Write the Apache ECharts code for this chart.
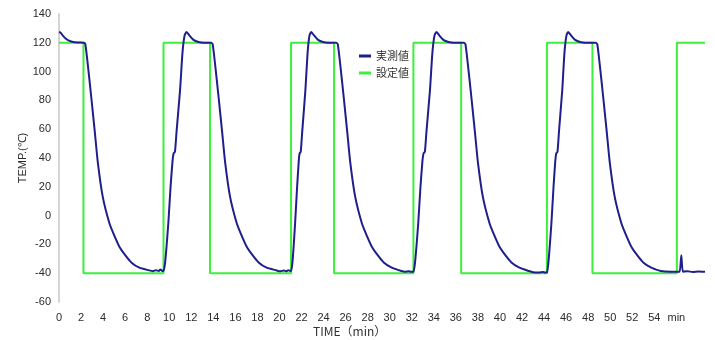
<!DOCTYPE html>
<html>
<head>
<meta charset="utf-8">
<script src="https://cdn.jsdelivr.net/npm/echarts@6/dist/echarts.min.js"></script>
<style>
  html, body { margin: 0; padding: 0; background: #fff; }
  #chart { width: 715px; height: 340px; }
</style>
</head>
<body>
<div id="chart"></div>
<script>
// set point: time (min) where the level changes, and the level from then on
const setTimes  = [0, 2.22, 9.48, 13.70, 21.05, 24.95, 32.15, 36.48, 44.26, 48.39, 56.05, 58.6]
const setLevels = [120, -40, 120, -40, 120, -40, 120, -40, 120, -40, 120, 120]

const measStartT = [0, 0.15, 0.35, 0.6, 0.9, 1.3, 1.8]
const measStartV = [127.5, 127, 125, 123, 121.5, 120.5, 120.2]

const measDown1T = [2.25, 2.39, 2.61, 2.93, 3.25, 3.52, 3.97, 4.58, 4.97, 5.49, 6.06, 6.56, 7.24, 8.15, 8.5, 8.8, 9.06, 9.2, 9.35]
const measDown1V = [120, 119, 105, 82, 58, 37, 13, -5.5, -13, -21.8, -28, -32.5, -36, -38, -38.6, -37.9, -38.5, -37.4, -38.3]
const measUp1T = [9.48, 9.62, 9.75, 9.92, 10.12, 10.30, 10.39, 10.52, 10.66, 10.98, 11.20, 11.39, 11.57, 11.84, 12.20, 12.66, 13.11]
const measUp1V = [-38.5, -33, -22, -5, 20, 38, 43, 44.5, 58, 87, 113, 125, 127.5, 125, 122, 120.5, 120]

const measDown2T = [13.80, 13.94, 14.16, 14.48, 14.80, 15.07, 15.52, 16.13, 16.52, 17.04, 17.61, 18.11, 18.79, 19.70, 20.1, 20.4, 20.61, 20.8, 20.95]
const measDown2V = [120, 119, 105, 82, 58, 37, 13, -5.5, -13, -21.8, -28, -32.5, -36, -38, -38.7, -38.1, -38.6, -38.0, -38.4]
const measUp2T = [21.05, 21.17, 21.28, 21.42, 21.60, 21.75, 21.82, 21.93, 22.06, 22.35, 22.55, 22.72, 22.88, 23.15, 23.50, 23.95, 24.40]
const measUp2V = [-38.5, -33, -22, -5, 20, 38, 43, 44.5, 58, 87, 113, 125, 127.5, 125, 122, 120.5, 120]

const measDown3T = [25.15, 25.29, 25.51, 25.83, 26.15, 26.42, 26.87, 27.48, 27.87, 28.39, 28.96, 29.46, 30.14, 31.05, 31.4, 31.7, 31.96]
const measDown3V = [120, 119, 105, 82, 58, 37, 13, -5.5, -13, -21.8, -28, -32.5, -36, -38.5, -39, -38.6, -39]
const measUp3T = [32.15, 32.29, 32.42, 32.59, 32.79, 32.97, 33.06, 33.19, 33.33, 33.65, 33.87, 34.06, 34.24, 34.51, 34.87, 35.33, 35.78]
const measUp3V = [-39, -33, -22, -5, 20, 38, 43, 44.5, 58, 87, 113, 125, 127.5, 125, 122, 120.5, 120]

const measDown4T = [36.73, 36.87, 37.09, 37.41, 37.73, 38.00, 38.45, 39.06, 39.45, 39.97, 40.54, 41.04, 41.72, 42.63, 43.0, 43.54, 43.9, 44.1]
const measDown4V = [120, 119, 105, 82, 58, 37, 13, -5.5, -13, -21.8, -28, -32.5, -36, -38.5, -39.3, -39.5, -39.1, -39.6]
const measUp4T = [44.26, 44.39, 44.51, 44.67, 44.86, 45.02, 45.10, 45.22, 45.35, 45.65, 45.85, 46.03, 46.19, 46.46, 46.82, 47.28, 47.73]
const measUp4V = [-39.5, -33, -22, -5, 20, 38, 43, 44.5, 58, 87, 113, 125, 127.5, 125, 122, 120.5, 120]

const measDown5T = [48.69, 48.83, 49.05, 49.37, 49.69, 49.96, 50.41, 51.02, 51.41, 51.93, 52.50, 53.00, 53.68, 54.59, 55.50, 56.05, 56.3, 56.45, 56.6, 57.0, 57.5, 58.0, 58.6]
const measDown5V = [120, 119, 105, 82, 58, 37, 13, -5.5, -13, -21.8, -28, -32.5, -36, -38.5, -39, -39, -39, -27.5, -39, -38.6, -39.2, -38.8, -39]

const measT = [].concat(measStartT, measDown1T, measUp1T, measDown2T, measUp2T, measDown3T, measUp3T, measDown4T, measUp4T, measDown5T)
const measV = [].concat(measStartV, measDown1V, measUp1V, measDown2V, measUp2V, measDown3V, measUp3V, measDown4V, measUp4V, measDown5V)

const chart = echarts.init(document.getElementById('chart'))

const labelFont = { color: '#2b2b2b', fontSize: 11, fontFamily: 'Liberation Sans, Arial, sans-serif' }

chart.setOption({
  animation: false,
  backgroundColor: '#fff',
  grid: { left: 59, right: 10, top: 14, bottom: 38 },
  title: {
    text: 'TIME（min）',
    left: 308,
    top: 320,
    textStyle: { color: '#333', fontSize: 12, fontWeight: 'normal', fontFamily: 'Noto Sans CJK JP' }
  },
  legend: {
    data: ['実測値', '設定値'],
    orient: 'vertical',
    left: 354,
    top: 45,
    icon: 'rect',
    itemWidth: 12,
    itemHeight: 3,
    itemGap: 5,
    textStyle: { color: '#333', fontSize: 11, lineHeight: 12, fontFamily: 'Noto Sans CJK JP' }
  },
  xAxis: {
    type: 'value',
    min: 0,
    max: 58.6,
    interval: 2,
    axisLine: { show: false },
    axisTick: { show: false },
    splitLine: { show: false },
    axisLabel: Object.assign({
      margin: 10,
      showMaxLabel: false,
      formatter: v => (v === 56 ? 'min' : v > 56 ? '' : String(v))
    }, labelFont)
  },
  yAxis: {
    type: 'value',
    min: -60,
    max: 140,
    interval: 20,
    name: 'TEMP.(℃)',
    nameLocation: 'middle',
    nameGap: 31,
    nameMoveOverlap: false,
    nameTextStyle: labelFont,
    axisLine: { show: true, lineStyle: { color: '#d4d4d4', width: 2 } },
    axisTick: { show: false },
    splitLine: { show: false },
    axisLabel: Object.assign({ margin: 8 }, labelFont)
  },
  series: [
    {
      name: '設定値',
      type: 'line',
      step: 'end',
      showSymbol: false,
      data: setTimes.map((t, i) => [t, setLevels[i]]),
      lineStyle: { color: '#3cf03c', width: 2 },
      itemStyle: { color: '#3cf03c' },
      z: 2
    },
    {
      name: '実測値',
      type: 'line',
      showSymbol: false,
      smooth: 0.2,
      data: measT.map((t, i) => [t, measV[i]]),
      lineStyle: { color: '#1e1e8c', width: 2 },
      itemStyle: { color: '#1e1e8c' },
      z: 3
    }
  ]
})
</script>
</body>
</html>
